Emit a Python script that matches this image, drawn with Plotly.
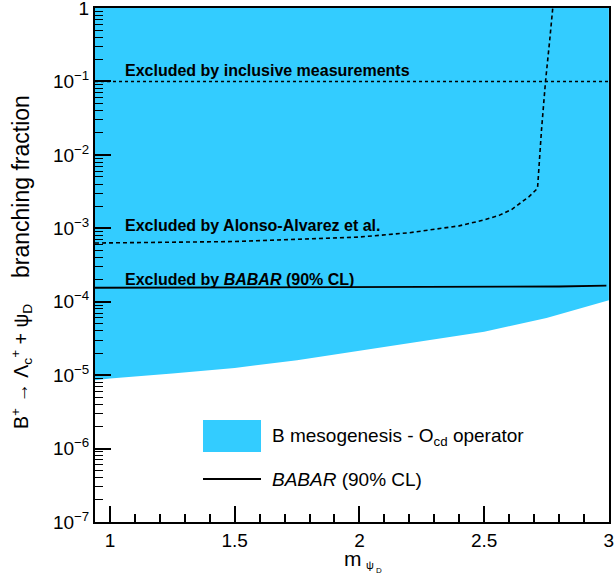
import plotly.graph_objects as go

# ---- data ----
x_meso = [0.94, 1.0, 1.25, 1.5, 1.75, 2.0, 2.25, 2.5, 2.75, 3.0]
y_meso_low = [8.5e-6, 9.0e-6, 1.05e-5, 1.25e-5, 1.6e-5, 2.15e-5, 2.9e-5, 3.9e-5, 6.0e-5, 1.05e-4]
y_top = 1.0

x_babar = [0.94, 1.5, 2.0, 2.5, 2.8, 2.99]
y_babar = [1.55e-4, 1.56e-4, 1.57e-4, 1.58e-4, 1.61e-4, 1.66e-4]

x_alonso = [0.94, 1.5, 2.0, 2.2, 2.4, 2.5, 2.56, 2.61, 2.68, 2.714, 2.73, 2.746, 2.763, 2.775]
y_alonso = [6.3e-4, 6.6e-4, 7.6e-4, 8.7e-4, 1.08e-3, 1.3e-3, 1.5e-3, 1.8e-3, 2.7e-3, 3.5e-3, 2.2e-2, 0.1, 0.37, 1.0]

x_incl = [0.94, 3.0]
y_incl = [0.1, 0.1]

y_major = [1e-7, 1e-6, 1e-5, 1e-4, 1e-3, 1e-2, 1e-1, 1]
y_major_text = ["10<sup>\u22127</sup>", "10<sup>\u22126</sup>", "10<sup>\u22125</sup>", "10<sup>\u22124</sup>",
                "10<sup>\u22123</sup>", "10<sup>\u22122</sup>", "10<sup>\u22121</sup>", "1"]
x_major = [1, 1.5, 2, 2.5, 3]
x_major_text = ["1", "1.5", "2", "2.5", "3"]

BLUE = "rgb(51,204,255)"
FONT = "Liberation Sans, Arial, sans-serif"

# plot-area geometry in pixels (for paper-coordinate conversions)
L, R, T, B = 95, 609, 8, 522
W, H = R - L, B - T
def px(x):
    return (x - L) / W
def py(y):
    return (B - y) / H

fig = go.Figure()

# filled mesogenesis region
fig.add_trace(go.Scatter(
    x=x_meso + x_meso[::-1],
    y=y_meso_low + [y_top] * len(x_meso),
    fill="toself", fillcolor=BLUE, mode="none", hoverinfo="skip", showlegend=False))

fig.add_trace(go.Scatter(x=x_incl, y=y_incl, mode="lines",
                         line=dict(color="black", width=1.5, dash="dot"), showlegend=False))
fig.add_trace(go.Scatter(x=x_alonso, y=y_alonso, mode="lines",
                         line=dict(color="black", width=1.6, dash="4px,3px"), showlegend=False))
fig.add_trace(go.Scatter(x=x_babar, y=y_babar, mode="lines",
                         line=dict(color="black", width=1.8), showlegend=False))

# minor y ticks on overlay axis
minor_vals = [m * 10 ** e for e in range(-7, 0) for m in range(2, 10)]
fig.add_trace(go.Scatter(x=[2], y=[1e-3], yaxis="y2", mode="markers",
                         marker=dict(opacity=0), hoverinfo="skip", showlegend=False))

fig.update_layout(
    width=614, height=581,
    margin=dict(l=L, r=614 - R, t=T, b=581 - B, autoexpand=False),
    paper_bgcolor="white", plot_bgcolor="white",
    font=dict(family=FONT, color="black"),
    xaxis=dict(range=[0.94, 3.0005], tickvals=x_major, ticktext=x_major_text, automargin=False,
               ticklabeloverflow="allow",
               ticks="inside", ticklen=16, tickwidth=1.5, tickcolor="black",
               minor=dict(dtick=0.1, tick0=0, ticks="inside", ticklen=8, tickwidth=1.5, tickcolor="black"),
               showline=True, linewidth=2, linecolor="black", mirror=True,
               showgrid=False, zeroline=False, tickfont=dict(size=19)),
    yaxis=dict(type="log", range=[-7.0008, 0.0008], tickvals=y_major, ticktext=y_major_text, automargin=False,
               ticklabeloverflow="allow",
               ticks="inside", ticklen=16, tickwidth=1.5, tickcolor="black",
               showline=True, linewidth=2, linecolor="black", mirror=True,
               showgrid=False, zeroline=False, tickfont=dict(size=19)),
    yaxis2=dict(type="log", range=[-7.0008, 0.0008], overlaying="y", side="left", automargin=False,
                tickvals=minor_vals, ticks="inside", ticklen=8, tickwidth=1.3, tickcolor="black",
                showticklabels=False, showgrid=False, zeroline=False, showline=False),
)

annots = [
    dict(x=1.052, y=-0.856, xref="x", yref="y", text="<b>Excluded by inclusive measurements</b>",
         xanchor="left", yanchor="middle", showarrow=False, font=dict(size=16)),
    dict(x=1.052, y=-2.967, xref="x", yref="y", text="<b>Excluded by Alonso-Alvarez et al.</b>",
         xanchor="left", yanchor="middle", showarrow=False, font=dict(size=16)),
    dict(x=1.052, y=-3.703, xref="x", yref="y", text="<b>Excluded by <i>BABAR</i> (90% CL)</b>",
         xanchor="left", yanchor="middle", showarrow=False, font=dict(size=16)),
    dict(x=px(270), y=py(437), xref="paper", yref="paper", text="B mesogenesis - O<sub>cd</sub> operator",
         xanchor="left", yanchor="middle", showarrow=False, font=dict(size=19)),
    dict(x=px(270), y=py(479), xref="paper", yref="paper", text="<i>BABAR</i> (90% CL)",
         xanchor="left", yanchor="middle", showarrow=False, font=dict(size=19)),
    # x title
    dict(x=px(353), y=py(558), xref="paper", yref="paper", text="m",
         xanchor="center", yanchor="middle", showarrow=False, font=dict(size=21)),
    dict(x=px(370), y=py(565), xref="paper", yref="paper", text="\u03c8",
         xanchor="center", yanchor="middle", showarrow=False, font=dict(size=11)),
    dict(x=px(379), y=py(570), xref="paper", yref="paper", text="D",
         xanchor="center", yanchor="middle", showarrow=False, font=dict(size=8)),
    # y title (two parts)
    dict(x=px(21), y=py(187), xref="paper", yref="paper", text="branching fraction",
         textangle=-90, xanchor="center", yanchor="middle", showarrow=False, font=dict(size=23)),
    dict(x=px(21), y=py(367), xref="paper", yref="paper",
         text="B<sup>+</sup> \u2192 \u039b<sub>c</sub><sup>+</sup> + \u03c8<sub>D</sub>",
         textangle=-90, xanchor="center", yanchor="middle", showarrow=False, font=dict(size=19.5)),
]
fig.update_layout(annotations=annots)

fig.add_shape(type="rect", xref="paper", yref="paper", x0=px(203), x1=px(261), y0=py(452), y1=py(420),
              fillcolor=BLUE, line=dict(width=0))
fig.add_shape(type="line", xref="paper", yref="paper", x0=px(203), x1=px(261), y0=py(479), y1=py(479),
              line=dict(color="black", width=1.8))

fig.write_html("out.html", config={"displayModeBar": False},
               post_script="document.body.style.margin='0';")
